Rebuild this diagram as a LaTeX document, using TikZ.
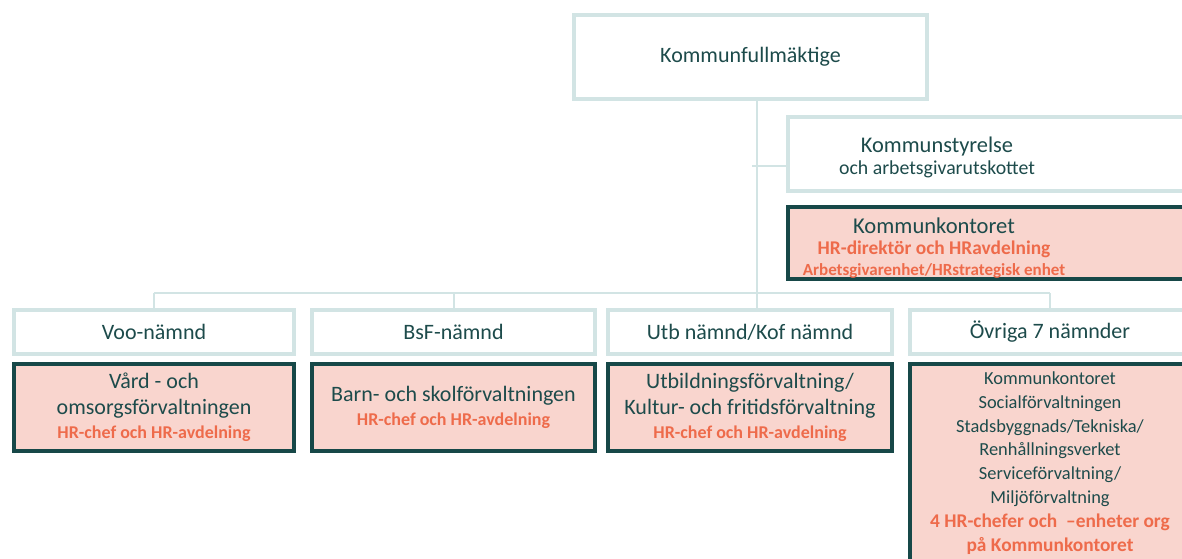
\documentclass[tikz,border=0pt]{standalone}
\usepackage{fontspec}
\setmainfont{Carlito}
\definecolor{boxline}{HTML}{D2E4E4}
\definecolor{darkline}{HTML}{174848}
\definecolor{pinkfill}{HTML}{F9D5CE}
\definecolor{hrtext}{HTML}{EE6B4B}
\definecolor{maintext}{HTML}{1D4B4B}
\newcommand{\hrtxt}[2][9]{{\color{hrtext}\bfseries\fontsize{#1}{11}\selectfont #2}}

\begin{document}
\begin{tikzpicture}[x=0.5pt,y=-0.5pt,
  lightbox/.style={draw=boxline,line width=2pt,fill=white,text=maintext,align=center,inner sep=0pt,font=\fontsize{11}{13}\selectfont},
  hrbox/.style={draw=darkline,line width=1.75pt,fill=pinkfill,text=maintext,align=center,inner sep=0pt,font=\fontsize{11}{13}\selectfont},
  conn/.style={draw=boxline,line width=1pt}]
  \useasboundingbox (0,0) rectangle (1182,558);
  \clip (0,0) rectangle (1182,558);

  % top of the chart
  \node[lightbox,minimum width=176.5pt,minimum height=42pt] (kf) at (750.5,57) {Kommunfullmäktige};
  \node[lightbox,minimum width=200pt,minimum height=37pt,anchor=west] (ks) at (786,154) {};
  \node[text=maintext,align=center,font=\fontsize{11.2}{11}\selectfont] (ks-txt) at (937,157)
    {Kommunstyrelse\\{\fontsize{9.9}{11}\selectfont och arbetsgivarutskottet}};
  \node[hrbox,minimum width=200pt,minimum height=36pt,anchor=west] (kk) at (786,243) {};
  \node[text=maintext,align=center,font=\fontsize{11.3}{10.5}\selectfont] (kk-txt) at (934,248)
    {Kommunkontoret\\\hrtxt[9.7]{HR-direktör och HRavdelning}\\\hrtxt[8.5]{Arbetsgivarenhet/HRstrategisk enhet}};

  % nämnder
  \node[lightbox,minimum width=140pt,minimum height=22pt] (voo) at (154,332) {Voo-nämnd};
  \node[lightbox,minimum width=141.5pt,minimum height=22pt] (bsf) at (453.5,332) {BsF-nämnd};
  \node[lightbox,minimum width=142pt,minimum height=22pt] (utb) at (750,332) {Utb nämnd/Kof nämnd};
  \node[lightbox,minimum width=140pt,minimum height=22pt] (ov) at (1050,332) {Övriga 7 nämnder};

  % förvaltningar
  \node[hrbox,minimum width=140pt,minimum height=43.5pt] (voo-f) at (154,407.5)
    {Vård - och\\omsorgsförvaltningen\\[-1pt]\hrtxt{HR-chef och HR-avdelning}};
  \node[hrbox,minimum width=141.5pt,minimum height=43.5pt] (bsf-f) at (453.5,407.5)
    {Barn- och skolförvaltningen\\[-1pt]\hrtxt{HR-chef och HR-avdelning}};
  \node[hrbox,minimum width=142pt,minimum height=43.5pt] (utb-f) at (750,407.5)
    {Utbildningsförvaltning/\\Kultur- och fritidsförvaltning\\[-1pt]\hrtxt{HR-chef och HR-avdelning}};
  \node[hrbox,minimum width=140pt,minimum height=99pt,font=\fontsize{9.2}{11.9}\selectfont] (ov-f) at (1050,463)
    {Kommunkontoret\\Socialförvaltningen\\Stadsbyggnads/Tekniska/\\Renhållningsverket\\Serviceförvaltning/\\Miljöförvaltning\\
     \hrtxt[9.7]{4 HR-chefer och\ \ --enheter\ org}\\\hrtxt[9.7]{på Kommunkontoret}};

  \coordinate (bus) at (757,293);
  \coordinate (kstick) at (752,166);
  \path[conn]
    (kf.south -| bus) edge (bus |- utb.north)
    (kstick) edge (kstick -| ks.west)
    (voo.north |- bus) edge (ov.north |- bus)
    (voo.north |- bus) edge (voo.north)
    (bsf.north |- bus) edge (bsf.north)
    (ov.north |- bus) edge (ov.north);
\end{tikzpicture}
\end{document}
